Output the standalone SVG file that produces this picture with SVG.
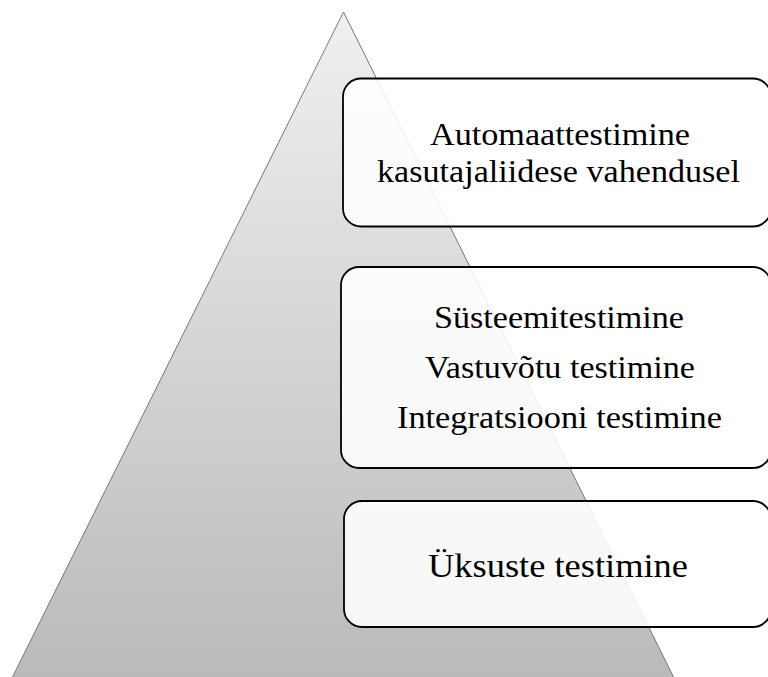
<svg xmlns="http://www.w3.org/2000/svg" width="768" height="677" viewBox="0 0 768 677">
<defs>
<linearGradient id="g" x1="0" y1="0" x2="0" y2="1">
<stop offset="0" stop-color="#f0f0f0"/>
<stop offset="1" stop-color="#bababa"/>
</linearGradient>
<style>
.box{fill:#ffffff;fill-opacity:0.88;stroke:#000;stroke-width:1.8}
.t{font-family:"Liberation Serif","Times New Roman",serif;fill:#000;text-anchor:middle;font-size:31px}
</style>
</defs>
<rect width="768" height="677" fill="#fff"/>
<g id="pyramid">
<polygon points="343.5,12 12,678 674,678" fill="url(#g)" stroke="#777" stroke-width="1"/>
</g>
<g id="connectors"></g>
<g id="node-top">
<rect class="box" x="343" y="78.5" width="428" height="148" rx="18"/>
<text class="t" x="560" y="145" textLength="260" lengthAdjust="spacingAndGlyphs">Automaattestimine</text>
<text class="t" x="558.5" y="182" textLength="363" lengthAdjust="spacingAndGlyphs">kasutajaliidese vahendusel</text>
</g>
<g id="node-middle">
<rect class="box" x="341" y="267" width="430" height="201" rx="18"/>
<text class="t" x="559" y="328" textLength="250" lengthAdjust="spacingAndGlyphs">Süsteemitestimine</text>
<text class="t" x="560" y="378" textLength="270" lengthAdjust="spacingAndGlyphs">Vastuvõtu testimine</text>
<text class="t" x="559.5" y="428" textLength="325" lengthAdjust="spacingAndGlyphs">Integratsiooni testimine</text>
</g>
<g id="node-bottom">
<rect class="box" x="344" y="501" width="427" height="126" rx="18"/>
<text class="t" x="558" y="577" style="font-size:33px" textLength="260" lengthAdjust="spacingAndGlyphs">Üksuste testimine</text>
</g>
</svg>
